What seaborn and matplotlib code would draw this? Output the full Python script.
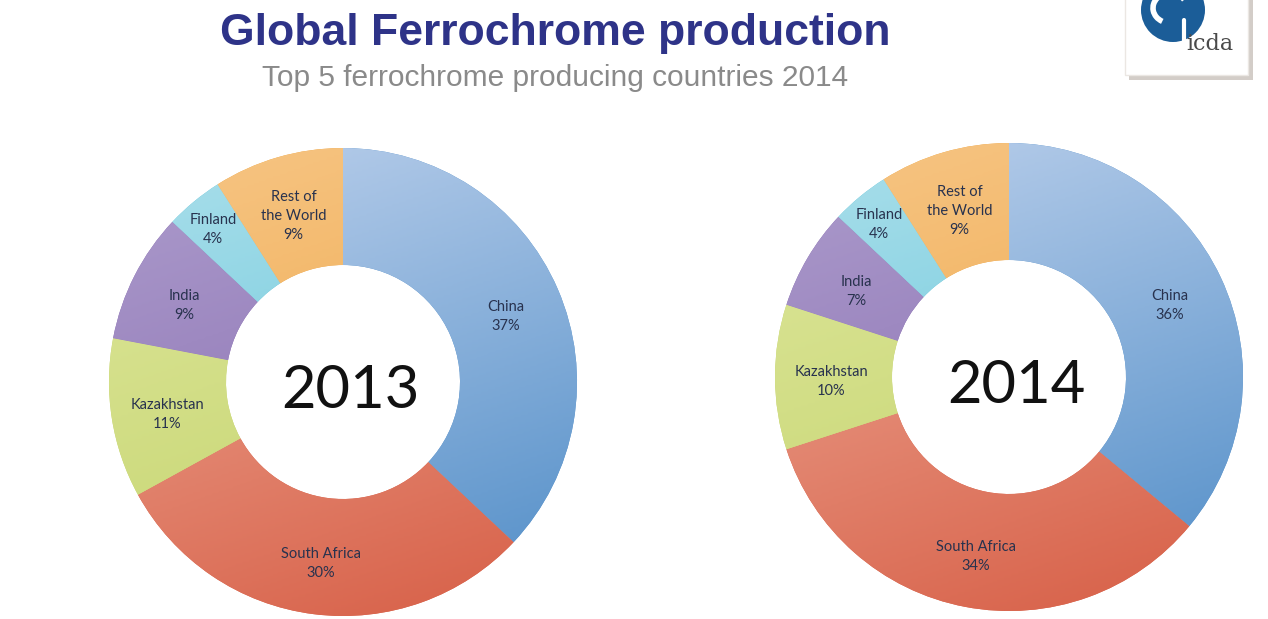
import numpy as np
import matplotlib
matplotlib.use("Agg")
import matplotlib.pyplot as plt
import matplotlib.patches as mpatches
from matplotlib.colors import LinearSegmentedColormap
import seaborn as sns

# data
countries = ["China", "South Africa", "Kazakhstan", "India", "Finland", "Rest of\nthe World"]
share_2013 = [37, 30, 11, 9, 4, 9]
share_2014 = [36, 34, 10, 7, 4, 9]
years = ["2013", "2014"]

# light -> dark pairs for the shaded wedges
light = ["#b7cdea", "#eda996", "#dde69a", "#ab9acb", "#a8deea", "#f6c482"]
dark = ["#5590c9", "#d8624a", "#c3d36b", "#8467ad", "#5bc2d8", "#eea23e"]

sns.set_theme(style="white")
plt.rcParams["font.family"] = ["Lato", "DejaVu Sans"]

fig = plt.figure(figsize=(12.68, 6.19), dpi=100)
fig.patch.set_facecolor("white")

W, H = 1268, 619


def px_axes(cx, cy, r):
    return fig.add_axes([(cx - r) / W, 1 - (cy + r) / H, 2 * r / W, 2 * r / H])


def donut(ax, values, year):
    wedges, _ = ax.pie(values, startangle=90, counterclock=False, radius=1.0,
                       wedgeprops=dict(width=0.5, linewidth=0), colors=dark)
    yy, xx = np.mgrid[1:-1:200j, -1:1:200j]
    grad = (-(yy) + xx * 0.35)
    for i, w in enumerate(wedges):
        cmap = LinearSegmentedColormap.from_list("g", [light[i], dark[i]])
        th = np.deg2rad((w.theta1 + w.theta2) / 2)
        im = ax.imshow(grad, extent=(-1, 1, -1, 1), cmap=cmap, origin="upper",
                       vmin=-1.2, vmax=1.2, zorder=1)
        im.set_clip_path(w)
        w.set_zorder(0)
        r = 0.87 if countries[i] == "Finland" else 0.76
        ax.text(r * np.cos(th), r * np.sin(th) - 0.02, f"{countries[i]}\n{values[i]}%",
                ha="center", va="center", fontsize=10.5, color="#28324e",
                linespacing=1.45, zorder=3)
    ax.text(0.03, -0.04, year, ha="center", va="center", fontsize=43,
            color="#111111", zorder=3)
    ax.set_xlim(-1, 1)
    ax.set_ylim(-1, 1)
    ax.set_aspect("equal")
    ax.axis("off")


ax1 = px_axes(343, 382, 234)
donut(ax1, share_2013, years[0])
ax2 = px_axes(1009, 377, 234)
donut(ax2, share_2014, years[1])

fig.text(555 / W, 1 - 33 / H, "Global Ferrochrome production", ha="center", va="center",
         fontsize=32, fontweight="bold", color="#2e3388", family="Liberation Sans")
fig.text(555 / W, 1 - 78 / H, "Top 5 ferrochrome producing countries 2014", ha="center",
         va="center", fontsize=21.5, color="#8a8a8a", family="Liberation Sans")

# small logo box, top right
lax = fig.add_axes([1120 / W, 1 - 90 / H, 148 / W, 90 / H])
lax.set_xlim(0, 148)
lax.set_ylim(90, 0)
lax.axis("off")
lax.add_patch(mpatches.Rectangle((9, -5), 124, 85, facecolor="#d3cdc8", edgecolor="none"))
lax.add_patch(mpatches.Rectangle((5, -5), 123, 80, facecolor="white", edgecolor="#ebe7e3", lw=1))
lax.add_patch(mpatches.Circle((53, 10), 32, facecolor="#1b5d98", edgecolor="none"))
lax.add_patch(mpatches.Arc((50, 8), 34, 30, theta1=120, theta2=330, color="white", lw=4))
lax.plot([64, 64], [20, 44], color="white", lw=3)
lax.text(90, 44, "icda", ha="center", va="center", fontsize=16, color="#4a4a4a",
         family="DejaVu Serif")

fig.savefig("out.png", dpi=100, facecolor="white")
